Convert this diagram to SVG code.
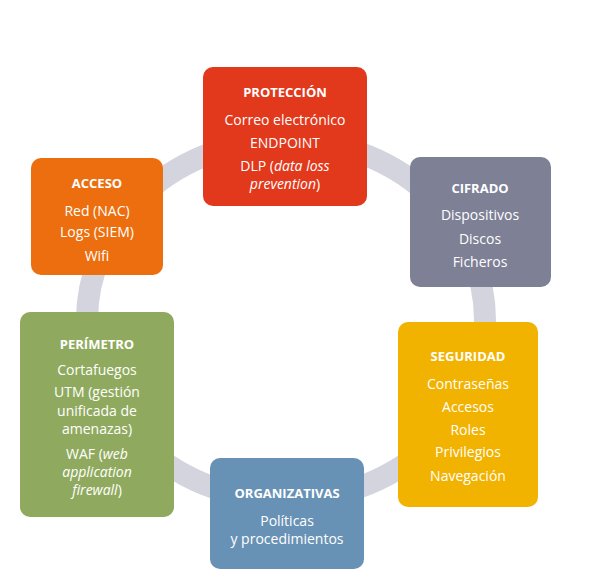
<svg xmlns="http://www.w3.org/2000/svg" width="595" height="574" viewBox="0 0 595 574">
<style>
.box{stroke:none}
text{font-family:"Open Sans","Liberation Sans",sans-serif;fill:#ffffff;text-anchor:middle}
.t{font-size:13px;font-weight:700}
.b{font-size:14px}
.i{font-style:italic}
</style>
<rect width="595" height="574" fill="#ffffff"/>
<g id="connectors">
<ellipse cx="286" cy="320" rx="199" ry="180" fill="none" stroke="#D3D4DE" stroke-width="22"/>
</g>
<g id="proteccion">
<rect class="box" x="203" y="67" width="164" height="139" rx="10" fill="#E2381B"/>
<text class="t" x="285" y="97">PROTECCIÓN</text>
<text class="b" x="285" y="125">Correo electrónico</text>
<text class="b" x="285" y="148">ENDPOINT</text>
<text class="b" x="285" y="171">DLP (<tspan class="i">data loss</tspan></text>
<text class="b" x="285" y="189"><tspan class="i">prevention</tspan>)</text>
</g>
<g id="acceso">
<rect class="box" x="31" y="158" width="132" height="117" rx="10" fill="#EC6E0E"/>
<text class="t" x="97" y="188">ACCESO</text>
<text class="b" x="97" y="216">Red (NAC)</text>
<text class="b" x="97" y="237">Logs (SIEM)</text>
<text class="b" x="97" y="261">Wifi</text>
</g>
<g id="cifrado">
<rect class="box" x="410" y="157" width="141" height="130" rx="10" fill="#7E8096"/>
<text class="t" x="480" y="193">CIFRADO</text>
<text class="b" x="480" y="220">Dispositivos</text>
<text class="b" x="480" y="244">Discos</text>
<text class="b" x="480" y="267">Ficheros</text>
</g>
<g id="perimetro">
<rect class="box" x="20" y="312" width="154" height="205" rx="10" fill="#8FAA5E"/>
<text class="t" x="97" y="349">PERÍMETRO</text>
<text class="b" x="97" y="375">Cortafuegos</text>
<text class="b" x="97" y="397">UTM (gestión</text>
<text class="b" x="97" y="416">unificada de</text>
<text class="b" x="97" y="434">amenazas)</text>
<text class="b" x="97" y="459">WAF (<tspan class="i">web</tspan></text>
<text class="b" x="97" y="477"><tspan class="i">application</tspan></text>
<text class="b" x="97" y="495"><tspan class="i">firewall</tspan>)</text>
</g>
<g id="seguridad">
<rect class="box" x="398" y="322" width="140" height="185" rx="10" fill="#F2B200"/>
<text class="t" x="468" y="361">SEGURIDAD</text>
<text class="b" x="468" y="389">Contraseñas</text>
<text class="b" x="468" y="412">Accesos</text>
<text class="b" x="468" y="435">Roles</text>
<text class="b" x="468" y="457">Privilegios</text>
<text class="b" x="468" y="481">Navegación</text>
</g>
<g id="organizativas">
<rect class="box" x="210" y="458" width="154" height="111" rx="10" fill="#6892B5"/>
<text class="t" x="287" y="498">ORGANIZATIVAS</text>
<text class="b" x="287" y="526">Políticas</text>
<text class="b" x="287" y="544">y procedimientos</text>
</g>
</svg>
